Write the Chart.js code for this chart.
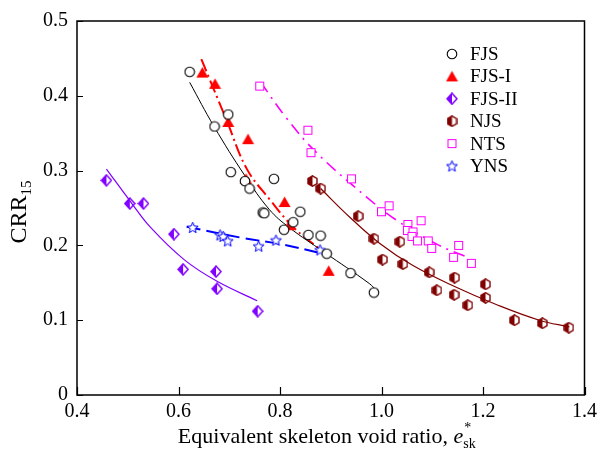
<!DOCTYPE html>
<html>
<head>
<meta charset="utf-8">
<script src="https://cdn.jsdelivr.net/npm/chart.js@4.4.0/dist/chart.umd.min.js"></script>
<style>
    body { margin: 0; background: #fff; }
    #wrap { width: 602px; height: 454px; }
</style>
</head>
<body>
<div id="wrap"><canvas id="crrChart" width="602" height="454"></canvas></div>
<script>
// tick labels
const xTickValues = [0.4, 0.6, 0.8, 1.0, 1.2, 1.4];
const xTickLabels = ["0.4", "0.6", "0.8", "1.0", "1.2", "1.4"];
const yTickValues = [0, 0.1, 0.2, 0.3, 0.4, 0.5];
const yTickLabels = ["0", "0.1", "0.2", "0.3", "0.4", "0.5"];

// FJS (open circles) and its fitted curve
const fjsX = [0.622, 0.671, 0.698, 0.703, 0.731, 0.740, 0.788, 0.766, 0.769, 0.808, 0.826, 0.840, 0.856, 0.880, 0.892, 0.939, 0.985];
const fjsY = [0.432, 0.359, 0.375, 0.298, 0.286, 0.276, 0.289, 0.244, 0.243, 0.221, 0.231, 0.245, 0.214, 0.213, 0.189, 0.163, 0.137];
const fjsFitX = [0.622, 0.670, 0.731, 0.779, 0.818, 0.887, 0.976, 0.991];
const fjsFitY = [0.418, 0.359, 0.293, 0.248, 0.224, 0.191, 0.149, 0.139];

// FJS-I (filled triangles)
const fjs1X = [0.647, 0.672, 0.698, 0.737, 0.733, 0.809, 0.818, 0.896];
const fjs1Y = [0.431, 0.416, 0.365, 0.342, 0.289, 0.258, 0.227, 0.166];
const fjs1FitX = [0.645, 0.695, 0.734, 0.779, 0.827, 0.884];
const fjs1FitY = [0.449, 0.367, 0.303, 0.262, 0.224, 0.192];

// FJS-II (half diamonds)
const fjs2X = [0.458, 0.504, 0.531, 0.591, 0.609, 0.674, 0.676, 0.756];
const fjs2Y = [0.287, 0.256, 0.256, 0.215, 0.168, 0.165, 0.142, 0.112];
const fjs2FitX = [0.458, 0.506, 0.545, 0.611, 0.676, 0.755];
const fjs2FitY = [0.302, 0.258, 0.224, 0.181, 0.152, 0.126];

// NJS (half hexagons)
const njsX = [0.864, 0.880, 0.954, 0.985, 1.036, 1.002, 1.042, 1.094, 1.144, 1.109, 1.143, 1.170, 1.205, 1.205, 1.262, 1.317, 1.369];
const njsY = [0.286, 0.276, 0.239, 0.209, 0.205, 0.181, 0.175, 0.164, 0.157, 0.140, 0.134, 0.120, 0.148, 0.130, 0.100, 0.096, 0.090];
const njsFitX = [0.880, 0.937, 0.996, 1.062, 1.144, 1.226, 1.311, 1.370];
const njsFitY = [0.276, 0.238, 0.203, 0.173, 0.145, 0.121, 0.100, 0.091];

// NTS (open squares)
const ntsX = [0.760, 0.855, 0.861, 0.941, 1.000, 1.015, 1.052, 1.078, 1.051, 1.062, 1.060, 1.071, 1.092, 1.099, 1.152, 1.142, 1.177];
const ntsY = [0.413, 0.354, 0.324, 0.289, 0.245, 0.253, 0.228, 0.233, 0.220, 0.218, 0.212, 0.206, 0.206, 0.196, 0.200, 0.184, 0.176];
const ntsFitX = [0.762, 0.813, 0.872, 0.970, 1.029, 1.108, 1.174];
const ntsFitY = [0.418, 0.370, 0.324, 0.265, 0.234, 0.202, 0.183];

// YNS (open stars)
const ynsX = [0.628, 0.682, 0.688, 0.697, 0.758, 0.792, 0.879];
const ynsY = [0.224, 0.214, 0.212, 0.206, 0.199, 0.207, 0.194];
const ynsFitX = [0.616, 0.726, 0.799, 0.891];
const ynsFitY = [0.225, 0.210, 0.202, 0.188];

const FONT = "'Liberation Serif', 'Times New Roman', serif";

function zip(xs, ys) {
    return xs.map((x, i) => ({ x: x, y: ys[i] }));
}

function marker(w, h, draw) {
    const c = document.createElement("canvas");
    c.width = w;
    c.height = h;
    draw(c.getContext("2d"), w, h);
    return c;
}

const circleImg = marker(12, 12, (g) => {
    g.beginPath();
    g.arc(6, 6, 4.8, 0, Math.PI * 2);
    g.fillStyle = "#fff";
    g.fill();
    g.strokeStyle = "#000";
    g.lineWidth = 1.1;
    g.stroke();
});

const triangleImg = marker(13, 12, (g) => {
    g.beginPath();
    g.moveTo(6.5, 0.5);
    g.lineTo(12.5, 11);
    g.lineTo(0.5, 11);
    g.closePath();
    g.fillStyle = "#ff0000";
    g.fill();
});

const diamondImg = marker(12, 13, (g) => {
    g.fillStyle = "#7f00ff";
    g.beginPath();
    g.moveTo(6, 1);
    g.lineTo(1, 6.5);
    g.lineTo(6, 12);
    g.closePath();
    g.fill();
    g.beginPath();
    g.moveTo(6, 1);
    g.lineTo(11, 6.5);
    g.lineTo(6, 12);
    g.lineTo(1, 6.5);
    g.closePath();
    g.strokeStyle = "#7f00ff";
    g.lineWidth = 1.5;
    g.stroke();
});

const hexImg = marker(11, 12, (g) => {
    g.fillStyle = "#800000";
    g.beginPath();
    g.moveTo(5.5, 0.8);
    g.lineTo(1, 3.4);
    g.lineTo(1, 8.6);
    g.lineTo(5.5, 11.2);
    g.closePath();
    g.fill();
    g.beginPath();
    g.moveTo(5.5, 0.8);
    g.lineTo(10, 3.4);
    g.lineTo(10, 8.6);
    g.lineTo(5.5, 11.2);
    g.lineTo(1, 8.6);
    g.lineTo(1, 3.4);
    g.closePath();
    g.strokeStyle = "#800000";
    g.lineWidth = 1.4;
    g.stroke();
});

const squareImg = marker(11, 11, (g) => {
    g.fillStyle = "#fff";
    g.fillRect(1, 1, 9, 9);
    g.strokeStyle = "#ff00ff";
    g.lineWidth = 1;
    g.strokeRect(1.5, 1.5, 8, 8);
});

const starImg = marker(13, 13, (g) => {
    g.beginPath();
    for (let i = 0; i < 10; i++) {
        const r = i % 2 === 0 ? 5.8 : 2.5;
        const a = -Math.PI / 2 + i * Math.PI / 5;
        const px = 6.5 + r * Math.cos(a);
        const py = 7 + r * Math.sin(a);
        if (i === 0) g.moveTo(px, py); else g.lineTo(px, py);
    }
    g.closePath();
    g.fillStyle = "#fff";
    g.fill();
    g.strokeStyle = "#0000ff";
    g.lineWidth = 1;
    g.stroke();
});

const legendItems = [
    { label: "FJS", img: circleImg },
    { label: "FJS-I", img: triangleImg },
    { label: "FJS-II", img: diamondImg },
    { label: "NJS", img: hexImg },
    { label: "NTS", img: squareImg },
    { label: "YNS", img: starImg },
];

function pointSet(label, xs, ys, img) {
    return {
        label: label,
        data: zip(xs, ys),
        pointStyle: img,
        pointRadius: 6,
        showLine: false,
        order: 1,
    };
}

function fitLine(xs, ys, color, width, dash) {
    return {
        label: "",
        data: zip(xs, ys),
        showLine: true,
        pointRadius: 0,
        borderColor: color,
        borderWidth: width,
        borderDash: dash,
        tension: 0.4,
        fill: false,
        order: 2,
    };
}

const framePlugin = {
    id: "frame",
    afterDraw(chart) {
        const ctx = chart.ctx;
        const a = chart.chartArea;
        const xs = chart.scales.x;
        const ys = chart.scales.y;
        ctx.save();
        ctx.strokeStyle = "#000";
        ctx.lineWidth = 1.5;
        ctx.strokeRect(a.left, a.top, a.right - a.left, a.bottom - a.top);

        // inward ticks
        ctx.lineWidth = 1.2;
        ctx.beginPath();
        xTickValues.forEach((v) => {
            const px = Math.round(xs.getPixelForValue(v)) + 0.5;
            ctx.moveTo(px, a.bottom);
            ctx.lineTo(px, a.bottom - 8);
        });
        yTickValues.forEach((v) => {
            const py = Math.round(ys.getPixelForValue(v)) + 0.5;
            ctx.moveTo(a.left, py);
            ctx.lineTo(a.left + 6, py);
        });
        ctx.stroke();

        // legend
        ctx.fillStyle = "#000";
        ctx.font = "19px " + FONT;
        ctx.textBaseline = "middle";
        ctx.textAlign = "left";
        legendItems.forEach((item, i) => {
            const y = 54 + i * 22.4;
            ctx.drawImage(item.img, 452 - item.img.width / 2, y - item.img.height / 2);
            ctx.fillText(item.label, 470, y + 1);
        });

        // x axis title
        ctx.textBaseline = "alphabetic";
        const base = 443;
        const main = "Equivalent skeleton void ratio, ";
        ctx.font = "22px " + FONT;
        const w1 = ctx.measureText(main).width;
        ctx.font = "italic 22px " + FONT;
        const we = ctx.measureText("e").width;
        ctx.font = "14px " + FONT;
        const ws = ctx.measureText("sk").width;
        let x0 = (a.left + a.right) / 2 - (w1 + we + ws) / 2 - 4;
        ctx.font = "22px " + FONT;
        ctx.fillText(main, x0, base);
        x0 += w1;
        ctx.font = "italic 22px " + FONT;
        ctx.fillText("e", x0, base);
        x0 += we;
        ctx.font = "14px " + FONT;
        ctx.fillText("*", x0 + 1, base - 11);
        ctx.fillText("sk", x0, base + 5);

        // y axis title
        ctx.translate(26, (a.top + a.bottom) / 2 + 4);
        ctx.rotate(-Math.PI / 2);
        ctx.font = "24px " + FONT;
        const wc = ctx.measureText("CRR").width;
        ctx.font = "15px " + FONT;
        const wn = ctx.measureText("15").width;
        const start = -(wc + wn) / 2;
        ctx.font = "24px " + FONT;
        ctx.fillText("CRR", start, 0);
        ctx.font = "15px " + FONT;
        ctx.fillText("15", start + wc, 5);
        ctx.restore();
    }
};

const ctx = document.getElementById("crrChart").getContext("2d");

new Chart(ctx, {
    type: "scatter",
    data: {
        datasets: [
            pointSet("FJS", fjsX, fjsY, circleImg),
            pointSet("FJS-I", fjs1X, fjs1Y, triangleImg),
            pointSet("FJS-II", fjs2X, fjs2Y, diamondImg),
            pointSet("NJS", njsX, njsY, hexImg),
            pointSet("NTS", ntsX, ntsY, squareImg),
            pointSet("YNS", ynsX, ynsY, starImg),
            fitLine(fjsFitX, fjsFitY, "#000000", 1, []),
            fitLine(fjs1FitX, fjs1FitY, "#ff0000", 2, [13, 4, 2, 4]),
            fitLine(fjs2FitX, fjs2FitY, "#7f00ff", 1.2, []),
            fitLine(njsFitX, njsFitY, "#800000", 1.2, []),
            fitLine(ntsFitX, ntsFitY, "#ff00ff", 1.6, [12, 6, 2, 6]),
            fitLine(ynsFitX, ynsFitY, "#0000ff", 2, [14, 6]),
        ],
    },
    options: {
        responsive: false,
        animation: false,
        devicePixelRatio: 1,
        layout: { padding: { top: 16, right: 16, left: 0, bottom: 0 } },
        plugins: {
            legend: { display: false },
            tooltip: { enabled: false },
        },
        scales: {
            x: {
                type: "linear",
                min: 0.4,
                max: 1.4,
                afterBuildTicks: (scale) => {
                    scale.ticks = xTickValues.map((v) => ({ value: v }));
                },
                afterFit: (scale) => { scale.height = 59; },
                grid: { display: false, drawTicks: false },
                border: { display: false },
                ticks: {
                    padding: 5,
                    color: "#000",
                    font: { family: FONT, size: 20 },
                    callback: (value, index) => xTickLabels[index],
                },
            },
            y: {
                type: "linear",
                min: 0,
                max: 0.5,
                afterBuildTicks: (scale) => {
                    scale.ticks = yTickValues.map((v) => ({ value: v }));
                },
                afterFit: (scale) => { scale.width = 77; },
                grid: { display: false, drawTicks: false },
                border: { display: false },
                ticks: {
                    padding: 9,
                    color: "#000",
                    font: { family: FONT, size: 20 },
                    callback: (value, index) => yTickLabels[index],
                },
            },
        },
    },
    plugins: [framePlugin],
});
</script>
</body>
</html>
